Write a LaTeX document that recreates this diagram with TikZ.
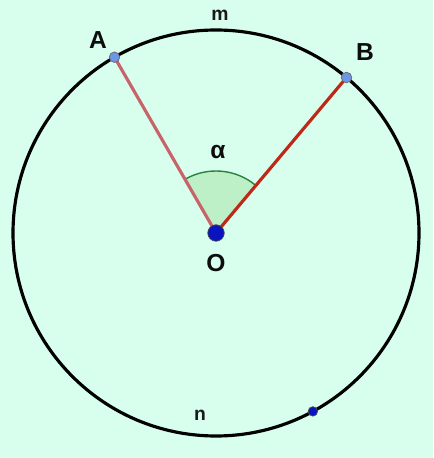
\documentclass[tikz,border=0pt]{standalone}
\usepackage{fontspec}
\setmainfont{Liberation Sans}
\usetikzlibrary{calc}
\definecolor{bgmint}{RGB}{216,255,238}
\definecolor{radA}{RGB}{200,100,105}
\definecolor{radB}{RGB}{190,40,25}
\definecolor{sectorfill}{RGB}{190,240,200}
\definecolor{sectorline}{RGB}{40,130,60}
\definecolor{ptlight}{RGB}{110,150,230}
\definecolor{ptdark}{RGB}{10,20,190}
\begin{document}
\begin{tikzpicture}

\tikzset{%
  lbl/.style={font=\bfseries\fontsize{14}{14}\selectfont,text=black!95},
  arclbl/.style={font=\bfseries\fontsize{11}{11}\selectfont,text=black!90},
  pt/.style={circle,draw=black!60,fill=ptlight,inner sep=0pt,minimum size=0.21cm},
}

% background
\fill[bgmint] (0,0) rectangle (8.66,9.16);
\useasboundingbox (0,0) rectangle (8.66,9.16);

\coordinate (O) at (4.32,4.50);
\coordinate (A) at ($(O)+(120:4.06)$);
\coordinate (B) at ($(O)+(50:4.06)$);
\coordinate (N) at ($(O)+(-61.5:4.06)$);

% sector
\fill[sectorfill] (O) -- ($(O)+(50:1.24)$) arc[start angle=50,end angle=120,radius=1.24] -- cycle;
\draw[sectorline,thick] ($(O)+(50:1.24)$) arc[start angle=50,end angle=120,radius=1.24];

% circle
\draw[line width=1.8pt] (O) circle[radius=4.06];

% radii
\draw[radA,line width=1.8pt] (O) -- (A);
\draw[radB,line width=1.8pt] (O) -- (B);

% points
\node[pt] (pA) at (A) {};
\node[pt] (pB) at (B) {};
\node[circle,fill=ptdark,draw=black!70,inner sep=0pt,minimum size=0.19cm] (pN) at (N) {};
\node[circle,fill=ptdark,draw=black!70,inner sep=0pt,minimum size=0.33cm] (pO) at (O) {};

% labels
\node[lbl] (lA) at (1.96,8.36) {A};
\node[lbl] (lB) at (7.30,8.12) {B};
\node[lbl] (lO) at (4.32,3.90) {O};
\node[lbl] (lal) at (4.36,6.12) {α};
\node[arclbl] (lm) at (4.40,8.86) {m};
\node[arclbl] (ln) at (4.00,0.86) {n};

\end{tikzpicture}
\end{document}
